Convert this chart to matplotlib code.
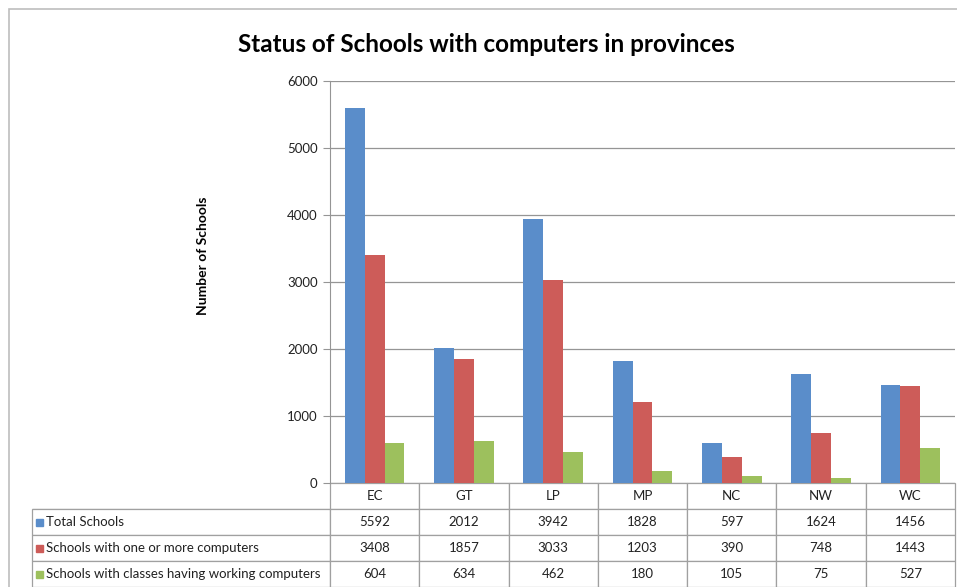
import matplotlib.pyplot as plt
import numpy as np
from matplotlib.table import Table
from matplotlib.patches import Rectangle

plt.rcParams['font.family'] = ['Lato', 'DejaVu Sans']

# Datos
provincias = ['EC', 'GT', 'LP', 'MP', 'NC', 'NW', 'WC']
series = ['Total Schools',
          'Schools with one or more computers',
          'Schools with classes having working computers']
total = [5592, 2012, 3942, 1828, 597, 1624, 1456]
con_pc = [3408, 1857, 3033, 1203, 390, 748, 1443]
con_clases = [604, 634, 462, 180, 105, 75, 527]
colores = ['#5A8DCA', '#CD5C59', '#9DC05D']

W, H = 957, 587
fig = plt.figure(figsize=(W / 100, H / 100), dpi=100)

# Ejes: izquierda 330 px, derecha 955 px, arriba 81 px, abajo 483 px
x0, x1, y0, y1 = 330, 955, 81, 483
ax = fig.add_axes([x0 / W, 1 - y1 / H, (x1 - x0) / W, (y1 - y0) / H])

# Borde exterior del grafico
fig.patches.append(Rectangle((9 / W, -0.1), 2, 1 - 9 / H + 0.1, transform=fig.transFigure,
                             fill=False, edgecolor='#BDBDBD', linewidth=1.2))

n = len(provincias)
x = np.arange(n)
ancho = 1 / 4.5  # gap width 150%
for i, (vals, c) in enumerate(zip([total, con_pc, con_clases], colores)):
    ax.bar(x + (i - 1) * ancho, vals, width=ancho, color=c, zorder=3)

ax.set_xlim(-0.5, n - 0.5)
ax.set_ylim(0, 6000)
ax.set_yticks(range(0, 6001, 1000))
ax.set_xticks([])
ax.grid(axis='y', color='#959595', linewidth=0.9, zorder=0)
for s in ['top', 'right', 'bottom']:
    ax.spines[s].set_visible(False)
ax.spines['left'].set_color('#959595')
ax.tick_params(axis='y', length=5, color='#959595', labelsize=9.5, pad=4, labelcolor='#222222')

# Titulo y etiqueta del eje
fig.text(486 / W, 1 - 44 / H, 'Status of Schools with computers in provinces',
         ha='center', va='center', fontsize=17.5, fontweight='bold')
fig.text(203 / W, 1 - 256 / H, 'Number of Schools', rotation=90,
         ha='center', va='center', fontsize=10, fontweight='bold')

# Tabla de datos
ancho_ejes = x1 - x0
alto_ejes = y1 - y0
lab_w = (x0 - 32) / ancho_ejes
col_w = 1 / n
fila_h = 26 / alto_ejes
tabla = Table(ax, bbox=[-lab_w, -4 * fila_h, lab_w + 1, 4 * fila_h])
tabla.auto_set_font_size(False)
borde = '#A0A0A0'

c = tabla.add_cell(0, 0, width=lab_w, height=fila_h, text='')
c.visible_edges = 'B'
for j, p in enumerate(provincias):
    tabla.add_cell(0, j + 1, width=col_w, height=fila_h, text=p, loc='center')
for i, (nombre, vals) in enumerate(zip(series, [total, con_pc, con_clases])):
    c = tabla.add_cell(i + 1, 0, width=lab_w, height=fila_h, text=nombre, loc='left')
    c.PAD = 14 / (x0 - 32)
    for j, v in enumerate(vals):
        tabla.add_cell(i + 1, j + 1, width=col_w, height=fila_h, text=str(v), loc='center')
for cell in tabla.get_celld().values():
    cell.set_edgecolor(borde)
    cell.set_linewidth(0.9)
    cell.get_text().set_fontsize(9.5)
    cell.get_text().set_color('#222222')
ax.add_table(tabla)

# Cuadros de color de la leyenda
for i, col in enumerate(colores):
    cy = -(i + 1.5) * fila_h
    ax.add_patch(Rectangle((-(x0 - 36) / ancho_ejes, cy - 3.5 / alto_ejes), 7 / ancho_ejes, 7 / alto_ejes,
                           transform=ax.transAxes, color=col, clip_on=False))

fig.savefig('out.png', dpi=100)
